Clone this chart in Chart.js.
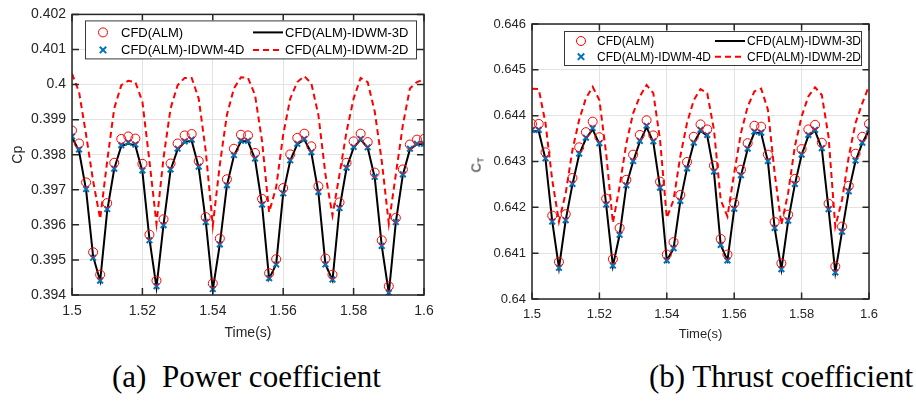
<!DOCTYPE html>
<html><head><meta charset="utf-8">
<script src="https://cdn.jsdelivr.net/npm/chart.js@4.4.1/dist/chart.umd.min.js"></script>
<style>
html,body{margin:0;padding:0;background:#fff;}
#wrap{position:relative;width:916px;height:402px;overflow:hidden;background:#fff;}
#wrap canvas{position:absolute;top:0;}
.cap{position:absolute;font-family:"Liberation Serif","Times New Roman",serif;font-size:31px;line-height:31px;white-space:pre;color:#000;}
#ct{position:absolute;left:477px;top:165px;font-family:"Liberation Sans",Arial,sans-serif;font-size:13px;color:#262626;transform:translate(-50%,-50%) rotate(-90deg);white-space:nowrap;}
#ct sub{font-size:9px;vertical-align:-3px;}
</style></head>
<body>
<div id="wrap">
  <canvas id="cA" width="460" height="345" style="left:0;width:460px;height:345px"></canvas>
  <canvas id="cB" width="456" height="345" style="left:460px;width:456px;height:345px"></canvas>
  <div id="ct">C<sub>T</sub></div>
  <div class="cap" style="left:112px;top:361px">(a)  Power coefficient</div>
  <div class="cap" style="right:3px;top:361px">(b) Thrust coefficient</div>
</div>
<script>
// ---------------- data ----------------
const times = [1.500,1.502,1.504,1.506,1.508,1.510,1.512,1.514,1.516,1.518,
  1.520,1.522,1.524,1.526,1.528,1.530,1.532,1.534,1.536,1.538,
  1.540,1.542,1.544,1.546,1.548,1.550,1.552,1.554,1.556,1.558,
  1.560,1.562,1.564,1.566,1.568,1.570,1.572,1.574,1.576,1.578,
  1.580,1.582,1.584,1.586,1.588,1.590,1.592,1.594,1.596,1.598,1.600];

const xTickLabels = ['1.5','1.52','1.54','1.56','1.58','1.6'];
const cpTickLabels = ['0.394','0.395','0.396','0.397','0.398','0.399','0.4','0.401','0.402'];
const ctTickLabels = ['0.64','0.641','0.642','0.643','0.644','0.645','0.646'];

const seriesNames = ['CFD(ALM)','CFD(ALM)-IDWM-4D','CFD(ALM)-IDWM-3D','CFD(ALM)-IDWM-2D'];

// Power coefficient
const cpALM = [0.39869,0.39832,0.39721,0.39522,0.39458,0.39662,0.39777,0.39845,0.39852,0.39846,
  0.39774,0.39572,0.39441,0.39616,0.39775,0.39832,0.39855,0.39859,0.39782,0.39622,
  0.39433,0.39561,0.39730,0.39817,0.39857,0.39855,0.39805,0.39674,0.39462,0.39502,
  0.39705,0.39801,0.39848,0.39860,0.39824,0.39710,0.39504,0.39458,0.39664,0.39777,
  0.39838,0.39860,0.39836,0.39749,0.39556,0.39425,0.39620,0.39758,0.39829,0.39843,0.39845];
const cpIDWM4D = [0.39852,0.39815,0.39702,0.39506,0.39441,0.39645,0.39760,0.39827,0.39835,0.39829,
  0.39755,0.39556,0.39425,0.39599,0.39758,0.39817,0.39838,0.39843,0.39766,0.39608,
  0.39417,0.39544,0.39713,0.39799,0.39840,0.39840,0.39789,0.39658,0.39448,0.39487,
  0.39690,0.39784,0.39831,0.39845,0.39807,0.39694,0.39487,0.39444,0.39648,0.39763,
  0.39822,0.39845,0.39821,0.39737,0.39540,0.39406,0.39608,0.39744,0.39817,0.39831,0.39831];
const cpIDWM3D = [0.39850,0.39810,0.39700,0.39510,0.39440,0.39640,0.39760,0.39825,0.39832,0.39826,
  0.39752,0.39560,0.39422,0.39600,0.39756,0.39815,0.39836,0.39840,0.39764,0.39610,
  0.39415,0.39545,0.39712,0.39797,0.39838,0.39838,0.39787,0.39656,0.39446,0.39488,
  0.39690,0.39783,0.39830,0.39843,0.39805,0.39692,0.39488,0.39442,0.39647,0.39762,
  0.39820,0.39843,0.39820,0.39735,0.39540,0.39405,0.39608,0.39743,0.39815,0.39830,0.39830];
const cpIDWM2D = [0.40031,0.39979,0.39857,0.39725,0.39617,0.39782,0.39932,0.39998,0.40011,0.40007,
  0.39951,0.39782,0.39603,0.39791,0.39932,0.39998,0.40019,0.40019,0.39960,0.39810,
  0.39598,0.39772,0.39913,0.39989,0.40021,0.40019,0.39970,0.39838,0.39636,0.39707,
  0.39857,0.39960,0.40007,0.40024,0.40003,0.39913,0.39744,0.39627,0.39744,0.39866,
  0.39960,0.40019,0.40007,0.39923,0.39782,0.39603,0.39744,0.39885,0.39989,0.40007,0.40015];

// Thrust coefficient
const ctALM = [0.64382,0.64382,0.64320,0.64182,0.64081,0.64185,0.64264,0.64331,0.64364,0.64387,
  0.64353,0.64219,0.64087,0.64155,0.64260,0.64315,0.64358,0.64390,0.64357,0.64256,
  0.64097,0.64124,0.64227,0.64299,0.64354,0.64381,0.64370,0.64291,0.64131,0.64097,
  0.64209,0.64282,0.64340,0.64378,0.64376,0.64315,0.64168,0.64078,0.64184,0.64262,
  0.64327,0.64370,0.64380,0.64341,0.64208,0.64071,0.64158,0.64247,0.64317,0.64354,0.64382];
const ctIDWM4D = [0.64369,0.64369,0.64307,0.64169,0.64068,0.64172,0.64251,0.64317,0.64352,0.64373,
  0.64340,0.64206,0.64073,0.64140,0.64248,0.64301,0.64345,0.64378,0.64344,0.64243,
  0.64084,0.64111,0.64214,0.64285,0.64341,0.64369,0.64358,0.64278,0.64118,0.64084,
  0.64197,0.64270,0.64328,0.64365,0.64363,0.64301,0.64155,0.64065,0.64171,0.64251,
  0.64315,0.64358,0.64369,0.64329,0.64196,0.64058,0.64147,0.64235,0.64302,0.64341,0.64370];
const ctIDWM3D = [0.64366,0.64366,0.64305,0.64170,0.64068,0.64172,0.64250,0.64315,0.64350,0.64370,
  0.64338,0.64206,0.64072,0.64140,0.64248,0.64300,0.64343,0.64375,0.64342,0.64243,
  0.64084,0.64110,0.64213,0.64285,0.64340,0.64367,0.64356,0.64277,0.64118,0.64084,
  0.64196,0.64269,0.64327,0.64363,0.64362,0.64300,0.64155,0.64065,0.64170,0.64250,
  0.64314,0.64356,0.64367,0.64328,0.64196,0.64058,0.64147,0.64235,0.64301,0.64340,0.64368];
const ctIDWM2D = [0.64459,0.64458,0.64384,0.64260,0.64169,0.64231,0.64325,0.64391,0.64438,0.64463,
  0.64434,0.64318,0.64166,0.64246,0.64340,0.64405,0.64442,0.64467,0.64449,0.64347,
  0.64177,0.64216,0.64311,0.64384,0.64434,0.64458,0.64449,0.64369,0.64216,0.64180,
  0.64275,0.64362,0.64420,0.64453,0.64459,0.64413,0.64275,0.64162,0.64231,0.64333,
  0.64398,0.64442,0.64462,0.64445,0.64354,0.64158,0.64216,0.64311,0.64384,0.64427,0.64465];

// ---------------- helpers ----------------
const pairs = (ys) => times.map((t, i) => ({x: t, y: ys[i]}));
const RED = '#ff0000', BLUE = '#0072BD', BLACK = '#000000';

const framePlugin = {
  id: 'matlabFrame',
  afterDatasetsDraw(chart, args, opts) {
    const {ctx, chartArea: a, scales} = chart;
    ctx.save();
    ctx.strokeStyle = '#262626';
    ctx.lineWidth = 1.5;
    const L = opts.tickLen;
    ctx.beginPath();
    scales.x.ticks.forEach(tk => {
      const px = scales.x.getPixelForValue(tk.value);
      ctx.moveTo(px, a.bottom); ctx.lineTo(px, a.bottom - L);
      ctx.moveTo(px, a.top); ctx.lineTo(px, a.top + L);
    });
    scales.y.ticks.forEach(tk => {
      const py = scales.y.getPixelForValue(tk.value);
      ctx.moveTo(a.left, py); ctx.lineTo(a.left + L, py);
      ctx.moveTo(a.right, py); ctx.lineTo(a.right - L, py);
    });
    ctx.stroke();
    ctx.strokeRect(a.left, a.top, a.right - a.left, a.bottom - a.top);
    // legend
    const g = opts.legend;
    const bx = a.left + g.dx, by = a.top + g.dy;
    ctx.fillStyle = '#ffffff';
    ctx.fillRect(bx, by, g.w, g.h);
    ctx.lineWidth = 1;
    ctx.strokeStyle = '#3a3a3a';
    ctx.strokeRect(bx + 0.5, by + 0.5, g.w, g.h);
    ctx.font = g.font + 'px "Liberation Sans", Arial, sans-serif';
    ctx.fillStyle = '#000';
    ctx.textBaseline = 'middle';
    ctx.textAlign = 'left';
    const ds = chart.data.datasets;
    const r1 = by + g.row1, r2 = by + g.row2;
    // circle
    ctx.strokeStyle = RED; ctx.lineWidth = 1;
    ctx.beginPath(); ctx.arc(bx + g.sym1, r1, 4.5, 0, Math.PI * 2); ctx.stroke();
    ctx.fillText(ds[0].label, bx + g.txt1, r1 + 1);
    // cross
    ctx.strokeStyle = BLUE; ctx.lineWidth = 2;
    const c = 3.2;
    ctx.beginPath();
    ctx.moveTo(bx + g.sym1 - c, r2 - c); ctx.lineTo(bx + g.sym1 + c, r2 + c);
    ctx.moveTo(bx + g.sym1 - c, r2 + c); ctx.lineTo(bx + g.sym1 + c, r2 - c);
    ctx.stroke();
    ctx.fillText(ds[1].label, bx + g.txt1, r2 + 1);
    // solid line
    ctx.strokeStyle = BLACK; ctx.lineWidth = 2;
    ctx.beginPath(); ctx.moveTo(bx + g.lin0, r1); ctx.lineTo(bx + g.lin1, r1); ctx.stroke();
    ctx.fillText(ds[2].label, bx + g.txt2, r1 + 1);
    // dashed line
    ctx.strokeStyle = RED; ctx.lineWidth = 2; ctx.setLineDash([6, 4]);
    ctx.beginPath(); ctx.moveTo(bx + g.lin0, r2); ctx.lineTo(bx + g.lin1, r2); ctx.stroke();
    ctx.setLineDash([]);
    ctx.fillText(ds[3].label, bx + g.txt2, r2 + 1);
    ctx.restore();
  }
};

function makeChart(id, v, yMin, yMax, yLabels, yTitle, fs, pad, xH, yW, titleYpad, tickLen, legend) {
  const fam = '"Liberation Sans", Arial, sans-serif';
  return new Chart(document.getElementById(id), {
    type: 'line',
    data: {
      datasets: [
        {label: seriesNames[0], data: pairs(v[0]), showLine: false, pointStyle: 'circle', pointRadius: 4.5,
         pointBorderColor: RED, pointBackgroundColor: 'rgba(0,0,0,0)', pointBorderWidth: 1, borderColor: RED},
        {label: seriesNames[1], data: pairs(v[1]), showLine: false, pointStyle: 'crossRot', pointRadius: 4,
         pointBorderColor: BLUE, pointBorderWidth: 2, borderColor: BLUE},
        {label: seriesNames[2], data: pairs(v[2]), borderColor: BLACK, borderWidth: 2, pointRadius: 0, tension: 0},
        {label: seriesNames[3], data: pairs(v[3]), borderColor: RED, borderWidth: 2, borderDash: [6, 4], pointRadius: 0, tension: 0}
      ]
    },
    options: {
      responsive: false, animation: false, events: [],
      layout: {padding: pad},
      plugins: {legend: {display: false}, tooltip: {enabled: false},
        matlabFrame: {tickLen: tickLen, legend: legend}},
      scales: {
        x: {type: 'linear', min: 1.5, max: 1.6,
          afterFit: s => { s.height = xH; },
          ticks: {stepSize: 0.02, autoSkip: false, maxRotation: 0, padding: 8, color: '#262626',
            font: {family: fam, size: fs}, callback: (val, i) => xTickLabels[i]},
          grid: {color: '#e3e3e3', lineWidth: 1, drawTicks: false},
          border: {display: false},
          title: {display: true, text: 'Time(s)', color: '#262626', font: {family: fam, size: fs}, padding: {top: 0, bottom: titleYpad}}
        },
        y: {type: 'linear', min: yMin, max: yMax,
          afterFit: s => { s.width = yW; },
          ticks: {stepSize: 0.001, autoSkip: false, padding: 6, color: '#262626',
            font: {family: fam, size: fs}, callback: (val, i) => yLabels[i]},
          grid: {color: '#e3e3e3', lineWidth: 1, drawTicks: false},
          border: {display: false},
          title: {display: yTitle !== '', text: yTitle, color: '#262626', font: {family: fam, size: fs}, padding: {top: 10, bottom: 0}}
        }
      }
    },
    plugins: [framePlugin]
  });
}

makeChart('cA', [cpALM, cpIDWM4D, cpIDWM3D, cpIDWM2D], 0.394, 0.402, cpTickLabels, 'Cp', 14,
  {left: 0, right: 36, top: 12, bottom: 0}, 50, 72, 3, 7,
  {dx: 13, dy: 6, w: 331, h: 38, row1: 12, row2: 29.5, sym1: 18, txt1: 36, lin0: 168, lin1: 198, txt2: 200, font: 13});

makeChart('cB', [ctALM, ctIDWM4D, ctIDWM3D, ctIDWM2D], 0.64, 0.646, ctTickLabels, '', 13,
  {left: 0, right: 47, top: 24, bottom: 0}, 46, 72, 3, 6.5,
  {dx: 32, dy: 7, w: 297, h: 34, row1: 10, row2: 25.7, sym1: 17, txt1: 33, lin0: 151, lin1: 181, txt2: 183, font: 12});
</script>
</body></html>
